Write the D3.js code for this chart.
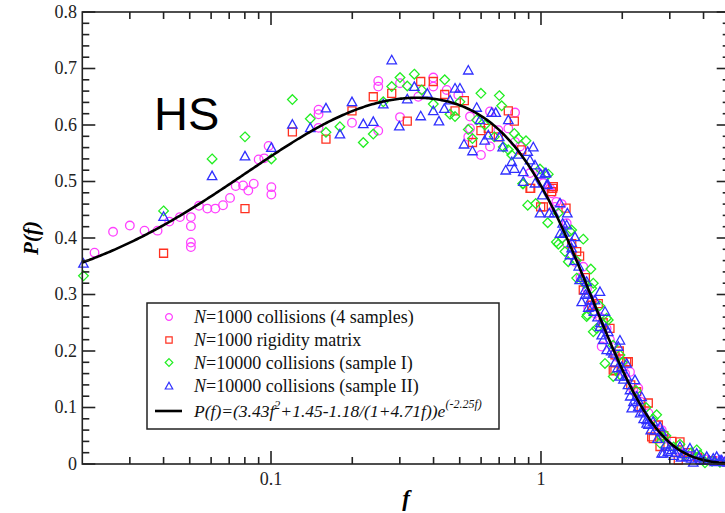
<!DOCTYPE html>
<html>
<head>
<meta charset="utf-8">
<script src="https://cdn.jsdelivr.net/npm/d3@7"></script>
<style>
  html, body { margin: 0; padding: 0; background: #fff; }
  svg { display: block; }
</style>
</head>
<body>
<svg id="chart" width="725" height="513"></svg>
<script>
// Force distribution P(f) for hard spheres: four data sets and the fitted curve.
const seriesLabels = [
  "=1000 collisions (4 samples)",
  "=1000 rigidity matrix",
  "=10000 collisions (sample I)",
  "=10000 collisions (sample II)"
];

// [f, P(f)] pairs
const collisions1000 = [
  [0.0222,0.374],[0.026,0.411],[0.030,0.422],[0.034,0.413],[0.038,0.413],[0.042,0.429],
  [0.046,0.437],[0.0505,0.437],[0.0505,0.421],[0.0505,0.392],[0.0505,0.384],[0.0541,0.457],
  [0.0581,0.452],[0.0622,0.452],[0.0664,0.458],[0.0705,0.471],[0.074,0.492],[0.0788,0.493],
  [0.0824,0.484],[0.0863,0.496],[0.090,0.539],[0.0944,0.541],[0.098,0.563],[0.1003,0.490],
  [0.1003,0.477],[0.150,0.627],[0.150,0.619],[0.150,0.595],
  [0.2496,0.678],[0.2496,0.668],[0.3005,0.674],[0.3991,0.684],[0.3991,0.668],[0.3513,0.650],
  [0.4474,0.662],[0.494,0.653],[0.1995,0.604],[0.2496,0.590],[0.3005,0.614],[0.5458,0.615],
  [0.6474,0.624],[0.8015,0.622],[0.5458,0.594],[0.5379,0.579],[0.5992,0.547],[0.6474,0.562],
  [0.6950,0.591],[0.7568,0.594],[0.8015,0.570],[0.8362,0.562],[0.9105,0.515],[1.020,0.497],
  [1.095,0.479],[0.9915,0.513],[1.080,0.488],[1.140,0.464],[1.245,0.426],[1.336,0.358],
  [1.434,0.349],[1.585,0.267],[1.127,0.455],[1.193,0.460],[1.497,0.276],[2.018,0.181],
  [2.136,0.163],[1.678,0.208],[2.293,0.134],[3.563,0.013],[2.5,0.09],[2.8,0.06],
  [3.9,0.01],[4.5,0.005],[1.75,0.24],
  [1.25,0.39],[1.30,0.37],[1.40,0.33],[1.48,0.31],[1.55,0.29],[1.65,0.26],[1.80,0.22],
  [1.90,0.19],[2.05,0.16],[2.2,0.13],[2.35,0.11],[2.65,0.07],[2.9,0.045],[3.2,0.025],
  [3.4,0.02],[4.1,0.008],[4.8,0.004]
];

const rigidity1000 = [
  [0.040,0.373],[0.0801,0.452],[0.120,0.588],[0.1598,0.575],[0.1995,0.625],[0.2392,0.650],
  [0.280,0.656],[0.3197,0.607],[0.3585,0.677],[0.3991,0.677],[0.44,0.654],[0.4804,0.625],
  [0.520,0.643],[0.5992,0.590],[0.5575,0.569],[0.6380,0.594],[0.6950,0.579],[0.7568,0.625],
  [0.7966,0.607],[0.8483,0.556],[0.9105,0.488],[0.997,0.455],[1.105,0.488],[1.238,0.453],
  [0.916,0.488],[1.111,0.491],[1.095,0.482],[1.020,0.455],[1.356,0.376],[1.390,0.368],
  [1.434,0.308],[1.541,0.281],[1.630,0.284],[1.801,0.240],[1.879,0.193],[1.879,0.165],
  [1.852,0.166],[2.077,0.181],[2.106,0.181],[2.262,0.128],[2.497,0.108],[2.570,0.048],
  [2.605,0.045],[2.719,0.069],[2.759,0.031],[3.225,0.007],[3.272,0.039],
  [1.30,0.39],[1.46,0.33],[1.70,0.25],[1.95,0.20],[2.15,0.14],[2.35,0.10],[2.85,0.05],
  [3.05,0.04],[3.5,0.02],[3.8,0.012],[4.3,0.006]
];

const collisions10000a = [
  [0.0202,0.333],[0.040,0.448],[0.0605,0.540],[0.0801,0.579],[0.1003,0.540],[0.120,0.645],
  [0.1398,0.611],[0.1598,0.587],[0.180,0.597],[0.2197,0.569],[0.2392,0.584],[0.2605,0.641],
  [0.280,0.668],[0.3005,0.684],[0.3197,0.669],[0.3395,0.690],[0.3616,0.662],[0.44,0.680],
  [0.3991,0.637],[0.4603,0.619],[0.4804,0.615],[0.501,0.641],[0.5992,0.656],[0.701,0.652],
  [0.7151,0.634],[0.5379,0.592],[0.5575,0.576],[0.5779,0.609],[0.620,0.600],[0.6715,0.579],
  [0.725,0.561],[0.7568,0.556],[0.7966,0.585],[0.7792,0.547],[0.8240,0.576],[0.880,0.572],
  [0.855,0.496],[0.9915,0.522],[1.064,0.513],[0.893,0.458],[0.956,0.461],[1.059,0.427],
  [1.159,0.444],[1.281,0.412],[0.8597,0.496],[1.299,0.414],[1.434,0.398],[1.140,0.393],
  [1.159,0.389],[1.227,0.376],[1.262,0.358],[1.530,0.345],[1.356,0.329],[1.541,0.311],
  [1.562,0.320],[1.484,0.264],[1.751,0.258],[1.476,0.261],[1.562,0.234],[1.775,0.255],
  [1.608,0.240],[1.961,0.193],[1.726,0.178],[1.852,0.155],[1.961,0.158],[2.682,0.087],
  [2.759,0.037],[2.799,0.048],[3.880,0.016],[4.049,0.002],[3.991,0.007],[3.773,0.025],
  [3.272,0.035],
  [1.20,0.40],[1.35,0.36],[1.45,0.32],[1.65,0.28],[1.85,0.21],[2.0,0.18],[2.25,0.13],
  [2.45,0.10],[2.6,0.08],[2.9,0.05],[3.1,0.03],[3.4,0.015],[3.6,0.02],[4.3,0.005],
  [4.6,0.003],[4.9,0.002]
];

const collisions10000b = [
  [0.0202,0.355],[0.040,0.438],[0.0605,0.510],[0.0801,0.545],[0.1003,0.560],[0.120,0.601],
  [0.1398,0.595],[0.1598,0.630],[0.180,0.584],[0.1995,0.641],[0.2197,0.602],[0.2392,0.606],
  [0.2605,0.637],[0.280,0.715],[0.2987,0.598],[0.3197,0.646],[0.3395,0.668],[0.3585,0.616],
  [0.3793,0.656],[0.3991,0.625],[0.419,0.607],[0.4384,0.629],[0.4603,0.644],[0.4804,0.665],
  [0.501,0.665],[0.5379,0.697],[0.5779,0.631],[0.5941,0.609],[0.6187,0.573],[0.5186,0.566],
  [0.5575,0.554],[0.6380,0.582],[0.6569,0.622],[0.6797,0.622],[0.7007,0.579],[0.7213,0.561],
  [0.7568,0.609],[0.7402,0.520],[0.7792,0.535],[0.7966,0.523],[0.8240,0.548],[0.8597,0.517],
  [0.8930,0.553],[0.9365,0.561],[0.9105,0.538],[0.950,0.529],[0.997,0.513],[1.044,0.515],
  [1.059,0.495],[1.011,0.476],[0.9915,0.444],[1.117,0.444],[1.176,0.462],[1.252,0.444],
  [1.176,0.408],[1.245,0.423],[1.050,0.494],[0.8597,0.500],[0.950,0.497],[1.035,0.515],
  [1.073,0.444],[1.203,0.426],[1.336,0.402],[1.299,0.392],[1.299,0.382],[1.390,0.326],
  [1.476,0.323],[1.455,0.308],[1.497,0.302],[1.415,0.287],[1.585,0.290],[1.654,0.305],
  [1.541,0.278],[1.726,0.270],[1.497,0.277],[1.654,0.243],[1.775,0.234],[1.678,0.228],
  [1.933,0.208],[1.852,0.196],[1.961,0.219],[1.751,0.202],[2.077,0.178],[1.990,0.172],
  [1.961,0.155],[2.229,0.149],[2.077,0.155],[2.136,0.131],[2.360,0.119],[2.293,0.113],
  [2.168,0.099],[2.293,0.101],[2.393,0.093],[2.463,0.078],[2.463,0.072],[2.644,0.060],
  [2.759,0.066],[2.799,0.057],[2.799,0.019],[2.838,0.019],[3.005,0.031],[3.272,0.031],
  [3.464,0.013],[3.563,0.028],[3.665,0.003],[3.773,0.019],[4.109,0.013],[4.346,0.010],
  [4.474,0.013],[4.603,0.007],[4.670,0.007],[3.1,0.015],[3.3,0.012],[3.9,0.008],
  [4.2,0.006],[4.8,0.004],[2.95,0.022],
  [1.22,0.41],[1.28,0.37],[1.33,0.36],[1.38,0.35],[1.42,0.33],[1.46,0.30],[1.52,0.29],
  [1.57,0.27],[1.62,0.26],[1.66,0.25],[1.70,0.22],[1.74,0.24],[1.82,0.20],[1.88,0.18],
  [1.92,0.17],[2.02,0.15],[2.10,0.14],[2.14,0.12],[2.20,0.11],[2.26,0.12],[2.33,0.09],
  [2.40,0.08],[2.50,0.07],[2.55,0.06],[2.60,0.075],[2.70,0.045],[2.90,0.035],[3.05,0.025],
  [3.15,0.02],[3.4,0.018],[3.6,0.01],[3.85,0.012],[4.0,0.006],[4.4,0.004],[4.9,0.003]
];

// Fit: P(f) = (a f^2 + b - c/(1 + d f)) e^(-k f)
const fitCoefficients = [3.43, 1.45, 1.18, 4.71, 2.25];

const xMajorTicks = [0.1, 1];
const xTickLabels = ["0.1", "1"];
const xMinorTicks = [0.03,0.04,0.05,0.06,0.07,0.08,0.09,0.2,0.3,0.4,0.5,0.6,0.7,0.8,0.9,2,3,4];
const yMajorTicks = [0, 0.1, 0.2, 0.3, 0.4, 0.5, 0.6, 0.7, 0.8];
const yTickLabels = ["0", "0.1", "0.2", "0.3", "0.4", "0.5", "0.6", "0.7", "0.8"];
const yMinorTicks = d3.range(0, 41).map(i => +(i * 0.02).toFixed(2)).filter(v => Math.abs(v * 10 - Math.round(v * 10)) > 1e-6);

const colors = ["#ff40ff", "#ff3020", "#22ee22", "#3030ff"];

const svg = d3.select("#chart");
const plotLeft = 82.3, plotRight = 729.7, plotTop = 12, plotBottom = 464;
const x = d3.scaleLog().domain([0.02, 5]).range([plotLeft, plotRight]);
const y = d3.scaleLinear().domain([0, 0.8]).range([plotBottom, plotTop]);

const serif = "'Liberation Serif', 'Times New Roman', serif";

// Marker shapes
function markerPath(kind, s) {
  if (kind === 0) { // circle
    const r = s;
    return `M${r},0A${r},${r} 0 1,1 ${-r},0A${r},${r} 0 1,1 ${r},0Z`;
  }
  if (kind === 1) { // square
    const h = s * 0.93;
    return `M${-h},${-h}H${h}V${h}H${-h}Z`;
  }
  if (kind === 2) { // diamond
    const h = s * 1.12;
    return `M0,${-h}L${h},0L0,${h}L${-h},0Z`;
  }
  // triangle
  const h = s * 1.1;
  return `M0,${-h}L${h},${h * 0.8}L${-h},${h * 0.8}Z`;
}

const plot = svg.append("g");
const allSeries = [collisions1000, rigidity1000, collisions10000a, collisions10000b];

allSeries.forEach((data, i) => {
  plot.append("g")
    .selectAll("path")
    .data(data)
    .join("path")
    .attr("transform", d => `translate(${x(d[0])},${y(d[1])})`)
    .attr("d", markerPath(i, 4.3))
    .attr("fill", "none")
    .attr("stroke", colors[i])
    .attr("stroke-width", 1.3);
});

// Fitted curve
const [fa, fb, fc, fd, fk] = fitCoefficients;
const fitP = f => (fa * f * f + fb - fc / (1 + fd * f)) * Math.exp(-fk * f);
const fGrid = d3.range(0, 401).map(i => 0.02 * Math.pow(5 / 0.02, i / 400));
plot.append("path")
  .datum(fGrid)
  .attr("d", d3.line().x(f => x(f)).y(f => y(fitP(f))))
  .attr("fill", "none")
  .attr("stroke", "#000")
  .attr("stroke-width", 2.6);

// Frame and inward ticks
const axisColor = "#222";
svg.append("rect")
  .attr("x", plotLeft).attr("y", plotTop)
  .attr("width", plotRight - plotLeft).attr("height", plotBottom - plotTop)
  .attr("fill", "none").attr("stroke", axisColor).attr("stroke-width", 1.6);

const ticks = svg.append("g").attr("stroke", axisColor).attr("stroke-width", 1.6);
function xTicks(vals, len) {
  vals.forEach(v => {
    ticks.append("line").attr("x1", x(v)).attr("x2", x(v)).attr("y1", plotBottom).attr("y2", plotBottom - len);
    ticks.append("line").attr("x1", x(v)).attr("x2", x(v)).attr("y1", plotTop).attr("y2", plotTop + len);
  });
}
function yTicks(vals, len) {
  vals.forEach(v => {
    ticks.append("line").attr("x1", plotLeft).attr("x2", plotLeft + len).attr("y1", y(v)).attr("y2", y(v));
    ticks.append("line").attr("x1", plotRight).attr("x2", plotRight - len).attr("y1", y(v)).attr("y2", y(v));
  });
}
xTicks(xMajorTicks, 13);
xTicks(xMinorTicks, 7);
yTicks(yMajorTicks, 13);
yTicks(yMinorTicks, 7);

// Tick labels
const labels = svg.append("g").attr("font-family", serif).attr("font-size", 18).attr("fill", "#222");
xMajorTicks.forEach((v, i) => {
  labels.append("text").attr("x", x(v)).attr("y", 485).attr("text-anchor", "middle").text(xTickLabels[i]);
});
yMajorTicks.forEach((v, i) => {
  labels.append("text").attr("x", 77).attr("y", y(v)).attr("dy", "0.33em").attr("text-anchor", "end").text(yTickLabels[i]);
});

// Axis titles
svg.append("text")
  .attr("x", (plotLeft + plotRight) / 2).attr("y", 506)
  .attr("text-anchor", "middle")
  .attr("font-family", serif).attr("font-size", 23)
  .attr("font-style", "italic").attr("font-weight", "bold")
  .text("f");
svg.append("text")
  .attr("transform", `translate(38,${(plotTop + plotBottom) / 2}) rotate(-90)`)
  .attr("text-anchor", "middle")
  .attr("font-family", serif).attr("font-size", 21)
  .attr("font-style", "italic").attr("font-weight", "bold")
  .text("P(f)");

// Panel tag
svg.append("text")
  .attr("x", 154).attr("y", 130)
  .attr("font-family", "'Liberation Sans', Arial, sans-serif")
  .attr("font-size", 47)
  .text("HS");

// Legend
const legend = svg.append("g");
legend.append("rect")
  .attr("x", 147).attr("y", 303).attr("width", 352).attr("height", 126)
  .attr("fill", "#fff").attr("stroke", "#222").attr("stroke-width", 1.5);
const rowY = [317, 340, 362.5, 386, 411];
seriesLabels.forEach((lab, i) => {
  legend.append("path")
    .attr("transform", `translate(169,${rowY[i]})`)
    .attr("d", markerPath(i, 3.4))
    .attr("fill", "none").attr("stroke", colors[i]).attr("stroke-width", 1.2);
  const t = legend.append("text")
    .attr("x", 194).attr("y", rowY[i]).attr("dy", "0.35em")
    .attr("font-family", serif).attr("font-size", 18).attr("fill", "#111");
  t.append("tspan").attr("font-style", "italic").text("N");
  t.append("tspan").text(lab);
});
legend.append("line")
  .attr("x1", 155).attr("x2", 182).attr("y1", rowY[4]).attr("y2", rowY[4])
  .attr("stroke", "#000").attr("stroke-width", 2.6);
const ft = legend.append("text")
  .attr("x", 194).attr("y", rowY[4]).attr("dy", "0.35em")
  .attr("font-family", serif).attr("font-size", 17.5).attr("font-style", "italic").attr("fill", "#111");
ft.append("tspan").text(`P(f)=(${fa}f`);
ft.append("tspan").attr("font-size", 12).attr("dy", -8).text("2");
ft.append("tspan").attr("dy", 8).text(`+${fb}-${fc}/(1+${fd}f))e`);
ft.append("tspan").attr("font-size", 12).attr("dy", -9).text(`(-${fk}f)`);
</script>
</body>
</html>
